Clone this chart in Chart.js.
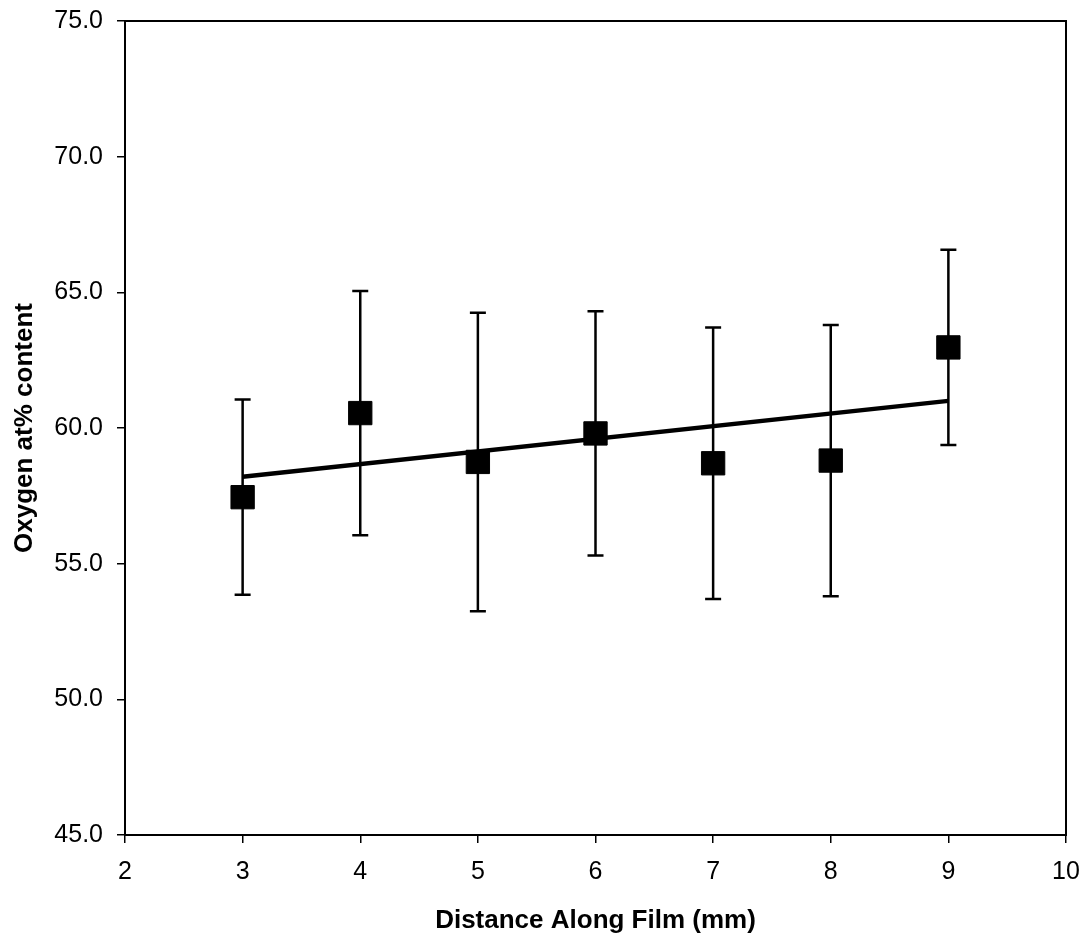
<!DOCTYPE html>
<html>
<head>
<meta charset="utf-8">
<script src="https://cdn.jsdelivr.net/npm/chart.js@4.4.1/dist/chart.umd.min.js"></script>
<style>
  body { margin: 0; background: #fff; }
  #wrap { width: 1088px; height: 941px; }
</style>
</head>
<body>
<div id="wrap"><canvas id="myChart"></canvas></div>
<script>
// values
var distance = [3, 4, 5, 6, 7, 8, 9];
var oxygen = [57.45, 60.55, 58.75, 59.8, 58.7, 58.8, 62.97];
var errors = [3.6, 4.5, 5.5, 4.5, 5.0, 5.0, 3.6];
var trendX = [3, 9];
var trendY = [58.2, 61.0];
var xTicks = [2, 3, 4, 5, 6, 7, 8, 9, 10];
var yTicks = [45, 50, 55, 60, 65, 70, 75];

var points = distance.map(function (d, i) { return { x: d, y: oxygen[i] }; });
var trend = trendX.map(function (d, i) { return { x: d, y: trendY[i] }; });

var errorBars = {
  id: "errorBars",
  beforeDatasetsDraw: function (chart) {
    var ctx = chart.ctx;
    var xs = chart.scales.x, ys = chart.scales.y;
    ctx.save();
    ctx.strokeStyle = "#000";
    ctx.lineWidth = 2.5;
    for (var i = 0; i < distance.length; i++) {
      var px = xs.getPixelForValue(distance[i]);
      var top = ys.getPixelForValue(oxygen[i] + errors[i]);
      var bot = ys.getPixelForValue(oxygen[i] - errors[i]);
      ctx.beginPath();
      ctx.moveTo(px, top); ctx.lineTo(px, bot);
      ctx.moveTo(px - 8, top); ctx.lineTo(px + 8, top);
      ctx.moveTo(px - 8, bot); ctx.lineTo(px + 8, bot);
      ctx.stroke();
    }
    ctx.restore();
  }
};

var frame = {
  id: "frame",
  afterDraw: function (chart) {
    var a = chart.chartArea, ctx = chart.ctx;
    ctx.save();
    ctx.strokeStyle = "#000";
    ctx.lineWidth = 2;
    ctx.strokeRect(a.left, a.top, a.right - a.left, a.bottom - a.top);
    ctx.restore();
  }
};

var tickFont = { family: "'Liberation Sans', Arial, sans-serif", size: 25 };
var titleFont = { family: "'Liberation Sans', Arial, sans-serif", size: 26, weight: "bold" };

new Chart("myChart", {
  type: "scatter",
  data: {
    datasets: [
      {
        type: "line",
        data: trend,
        borderColor: "#000",
        borderWidth: 4.5,
        pointRadius: 0,
        fill: false
      },
      {
        data: points,
        pointStyle: "rect",
        pointRadius: 16.5,
        pointHoverRadius: 16.5,
        backgroundColor: "#000",
        borderColor: "#000",
        borderWidth: 1
      }
    ]
  },
  options: {
    responsive: true,
    maintainAspectRatio: false,
    animation: false,
    layout: { padding: { left: 0, top: 21, right: 22, bottom: 0 } },
    plugins: {
      legend: { display: false },
      tooltip: { enabled: false }
    },
    scales: {
      x: {
        type: "linear",
        min: 2,
        max: 10,
        afterBuildTicks: function (s) { s.ticks = xTicks.map(function (v) { return { value: v }; }); },
        afterFit: function (s) { s.height = 106; s.paddingLeft = 0; s.paddingRight = 0; },
        ticks: { color: "#000", font: tickFont, padding: 14 },
        grid: { drawOnChartArea: false, drawTicks: true, tickLength: 8, color: "#000", lineWidth: 1.5 },
        border: { display: false },
        title: { display: true, text: "Distance Along Film (mm)", color: "#000", font: titleFont, padding: { top: 0, bottom: 5 } }
      },
      y: {
        type: "linear",
        min: 45,
        max: 75,
        afterBuildTicks: function (s) { s.ticks = yTicks.map(function (v) { return { value: v }; }); },
        afterFit: function (s) { s.width = 125; s.paddingTop = 0; s.paddingBottom = 0; },
        ticks: { color: "#000", font: tickFont, padding: 14, callback: function (v) { return v.toFixed(1); } },
        grid: { drawOnChartArea: false, drawTicks: true, tickLength: 8, color: "#000", lineWidth: 1.5 },
        border: { display: false },
        title: { display: true, text: "Oxygen at% content", color: "#000", font: titleFont, padding: { top: 9, bottom: 0 } }
      }
    }
  },
  plugins: [errorBars, frame]
});
</script>
</body>
</html>
